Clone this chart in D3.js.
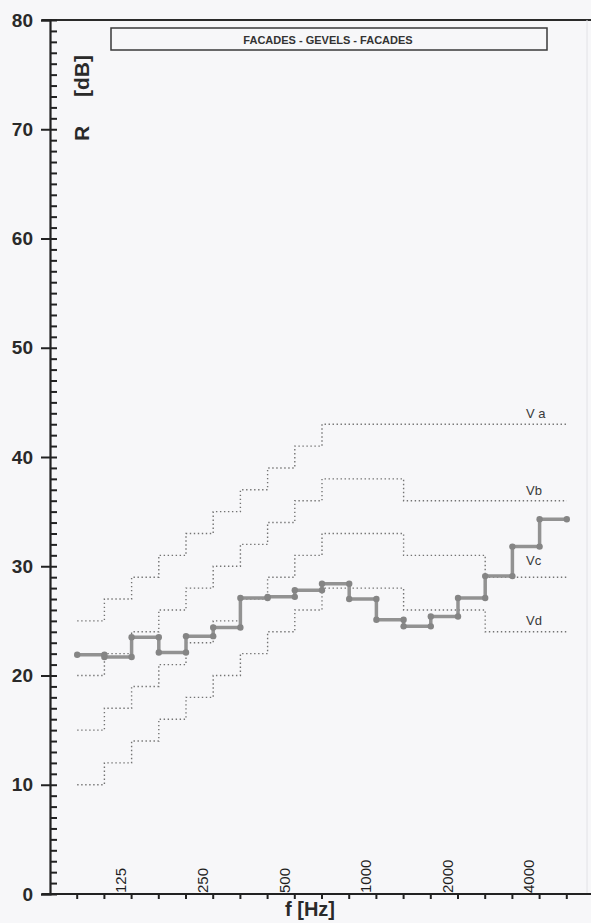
<!DOCTYPE html>
<meta charset="utf-8">
<head>
<title>R [dB] - Facades</title>
<style>
  body { margin: 0; background: #f7f7f9; }
  svg { display: block; font-family: "Liberation Sans", Arial, sans-serif; }
  .ref { fill: none; stroke: #737373; stroke-width: 1.4; stroke-dasharray: 1.4 2.6; }
  .meas { fill: none; stroke: #929292; stroke-width: 3.5; stroke-linejoin: round; }
</style>
</head>
<body>
<script src="https://cdn.jsdelivr.net/npm/d3@7/dist/d3.min.js"></script>
<script>

// third-octave bands (Hz)
var bands = ["100","125","160","200","250","315","400","500","630","800",
             "1000","1250","1600","2000","2500","3150","4000","5000"];

// measured sound reduction index R (dB)
var measured = [21.9, 21.7, 23.5, 22.1, 23.6, 24.4, 27.1, 27.2, 27.8, 28.4,
                27.0, 25.1, 24.5, 25.4, 27.1, 29.1, 31.8, 34.3];

// reference curves
var Va = [25, 27, 29, 31, 33, 35, 37, 39, 41, 43, 43, 43, 43, 43, 43, 43, 43, 43];
var Vb = [20, 22, 24, 26, 28, 30, 32, 34, 36, 38, 38, 38, 36, 36, 36, 36, 36, 36];
var Vc = [15, 17, 19, 21, 23, 25, 27, 29, 31, 33, 33, 33, 31, 31, 31, 29, 29, 29];
var Vd = [10, 12, 14, 16, 18, 20, 22, 24, 26, 28, 28, 28, 26, 26, 26, 24, 24, 24];

var refNames = ["V a", "Vb", "Vc", "Vd"];
var freqLabels = ["125", "250", "500", "1000", "2000", "4000"];
var yTicks = [0, 10, 20, 30, 40, 50, 60, 70, 80];

var W = 591, H = 923;
var x0 = 50, step = 27.2;

var svg = d3.select("body").append("svg")
    .attr("width", W)
    .attr("height", H);

var x = d3.scaleBand()
    .domain(bands)
    .range([x0 + step, x0 + step * (bands.length + 1)]);

var y = d3.scaleLinear()
    .domain([0, 80])
    .range([894, 20]);

// frame: top line and faint right edge
svg.append("line")
    .attr("x1", 42).attr("x2", W).attr("y1", y(80)).attr("y2", y(80))
    .attr("stroke", "#2a2a2a").attr("stroke-width", 2);
svg.append("line")
    .attr("x1", 587).attr("x2", 587).attr("y1", y(80)).attr("y2", y(0))
    .attr("stroke", "#e2e2e6").attr("stroke-width", 1);

// title box
svg.append("rect")
    .attr("x", 111).attr("y", 28).attr("width", 436).attr("height", 22)
    .attr("fill", "none").attr("stroke", "#3a3a3a").attr("stroke-width", 1.5);
svg.append("text")
    .attr("x", 328).attr("y", 44)
    .attr("text-anchor", "middle")
    .style("font-size", "11px").style("font-weight", "bold").style("fill", "#333")
    .text("FACADES - GEVELS - FACADES");

// y axis: minor ticks every dB (inside), major ticks crossing
var yMinor = svg.append("g")
    .attr("transform", "translate(" + x0 + ",0)")
    .call(d3.axisRight(y).tickValues(d3.range(0, 81, 1)).tickSize(7).tickFormat(""));
yMinor.select(".domain").remove();
yMinor.selectAll("line").attr("stroke", "#222").attr("stroke-width", 2);

var yAxis = svg.append("g")
    .attr("transform", "translate(" + x0 + ",0)")
    .call(d3.axisLeft(y).tickValues(yTicks).tickSize(9).tickPadding(8));
yAxis.select(".domain").attr("stroke", "#222").attr("stroke-width", 2.2);
yAxis.selectAll("line").attr("stroke", "#222").attr("stroke-width", 2);
yAxis.selectAll("text")
    .style("font-size", "19px").style("font-weight", "bold").style("fill", "#2a2a2a")
    .style("font-family", "'Liberation Sans', Arial, sans-serif");

// x axis line with third-octave ticks
svg.append("line")
    .attr("x1", 42).attr("x2", W).attr("y1", y(0)).attr("y2", y(0))
    .attr("stroke", "#222").attr("stroke-width", 2.2);

var edges = bands.map(function(b) { return x(b); }).concat([x(bands[bands.length - 1]) + x.bandwidth()]);
svg.selectAll("line.xtick")
    .data(edges)
  .enter().append("line")
    .attr("class", "xtick")
    .attr("x1", function(d) { return d; }).attr("x2", function(d) { return d; })
    .attr("y1", y(0) - 1).attr("y2", y(0) + 5)
    .attr("stroke", "#222").attr("stroke-width", 2);

svg.selectAll("text.xlab")
    .data(freqLabels)
  .enter().append("text")
    .attr("class", "xlab")
    .attr("transform", function(d) {
      return "translate(" + (x(d) + x.bandwidth() / 2 + 3) + "," + (y(0) - 1) + ") rotate(-90)";
    })
    .attr("dy", "0.36em")
    .style("font-size", "15px").style("fill", "#1f1f1f")
    .text(function(d) { return d; });

// axis titles
svg.append("text")
    .attr("x", 310).attr("y", 916)
    .attr("text-anchor", "middle")
    .style("font-size", "20px").style("font-weight", "bold").style("fill", "#2a2a2a")
    .text("f [Hz]");

svg.append("text")
    .attr("transform", "translate(81,141) rotate(-90)")
    .attr("dy", "0.36em")
    .style("font-size", "21px").style("font-weight", "bold").style("fill", "#2a2a2a")
    .text("R");
svg.append("text")
    .attr("transform", "translate(81,97) rotate(-90)")
    .attr("dy", "0.36em")
    .style("font-size", "21px").style("font-weight", "bold").style("fill", "#2a2a2a")
    .text("[dB]");

// step path helper: each band is a flat segment across its width
function stepPoints(values) {
  var pts = [];
  values.forEach(function(v, i) {
    pts.push([x(bands[i]), v]);
    pts.push([x(bands[i]) + x.bandwidth(), v]);
  });
  return pts;
}

var line = d3.line()
    .x(function(d) { return d[0]; })
    .y(function(d) { return y(d[1]); });

var refs = [Va, Vb, Vc, Vd];
var labelShift = [-6, -6, -12, -7];

svg.selectAll("path.ref")
    .data(refs)
  .enter().append("path")
    .attr("class", "ref")
    .attr("d", function(d) { return line(stepPoints(d)); });

svg.selectAll("text.reflab")
    .data(refs)
  .enter().append("text")
    .attr("class", "reflab")
    .attr("x", x(bands[16]) + x.bandwidth() / 2)
    .attr("y", function(d, i) { return y(d[d.length - 1]) + labelShift[i]; })
    .style("font-size", "13px").style("fill", "#3a3a3a")
    .text(function(d, i) { return refNames[i]; });

// measured curve
var mPts = stepPoints(measured);
svg.append("path")
    .attr("class", "meas")
    .attr("d", line(mPts));

svg.selectAll("circle.mk")
    .data(mPts)
  .enter().append("circle")
    .attr("class", "mk")
    .attr("cx", function(d) { return d[0]; })
    .attr("cy", function(d) { return y(d[1]); })
    .attr("r", 3.2)
    .attr("fill", "#858585");

</script>
</body>
